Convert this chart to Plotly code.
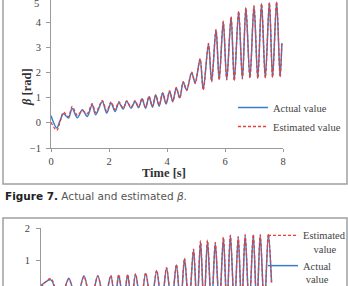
import plotly.graph_objects as go

# ---------------- Figure 7 (top): actual and estimated beta ----------------
t_top = [0.00, 0.20, 0.30, 0.43, 0.60, 0.73, 0.91, 1.08, 1.25, 1.42, 1.54, 1.77,
         1.92, 2.07, 2.21, 2.34, 2.49, 2.61, 2.76, 2.90, 3.02, 3.14, 3.26, 3.38,
         3.50, 3.61, 3.73, 3.85, 3.97, 4.09, 4.20, 4.32, 4.44, 4.56, 4.68, 4.85,
         4.97, 5.14, 5.25, 5.43, 5.54, 5.69, 5.80, 5.94, 6.06, 6.21, 6.32, 6.47,
         6.60, 6.72, 6.86, 7.00, 7.13, 7.26, 7.39, 7.53, 7.64, 7.78, 7.90, 7.96]
beta_actual = [0.28, -0.21, 0.05, 0.36, 0.19, 0.57, 0.20, 0.52, 0.25, 0.72, 0.32, 0.85,
               0.39, 0.79, 0.45, 0.80, 0.55, 0.86, 0.58, 0.85, 0.60, 0.95, 0.58, 1.03,
               0.62, 1.10, 0.66, 1.18, 0.75, 1.25, 0.85, 1.38, 0.99, 1.61, 1.30, 1.99,
               1.59, 2.52, 1.32, 3.12, 1.65, 3.69, 1.72, 4.01, 1.72, 4.19, 1.68, 4.41,
               1.75, 4.56, 1.79, 4.63, 1.77, 4.72, 1.79, 4.76, 1.81, 4.79, 1.83, 3.16]
beta_estimated = [0.02, -0.30, -0.02, 0.42, 0.24, 0.65, 0.30, 0.48, 0.36, 0.76, 0.40, 0.88,
                  0.46, 0.83, 0.52, 0.84, 0.58, 0.87, 0.62, 0.88, 0.63, 0.96, 0.62, 1.05,
                  0.65, 1.11, 0.70, 1.19, 0.77, 1.27, 0.83, 1.40, 0.97, 1.63, 1.28, 2.02,
                  1.56, 2.55, 1.30, 3.15, 1.63, 3.71, 1.70, 4.03, 1.70, 4.21, 1.67, 4.43,
                  1.74, 4.57, 1.78, 4.64, 1.76, 4.73, 1.78, 4.77, 1.80, 4.80, 1.82, 3.15]

# ---------------- second figure (partially visible, bottom) ----------------
t_bot = [0.00, 0.34, 0.65, 0.96, 1.22, 1.48, 1.72, 1.96, 2.18, 2.41, 2.55, 2.68,
         2.84, 2.99, 3.12, 3.26, 3.44, 3.61, 3.80, 3.99, 4.16, 4.33, 4.50, 4.67,
         4.81, 4.95, 5.10, 5.26, 5.38, 5.50, 5.62, 5.74, 5.88, 6.01, 6.15, 6.29,
         6.41, 6.53, 6.67, 6.80, 6.92, 7.04, 7.18, 7.32, 7.44, 7.56, 7.70, 7.84, 7.95]
bot_actual = [0.20, 0.38, -0.30, 0.43, -0.30, 0.51, -0.30, 0.51, -0.30, 0.50, -0.30, 0.52,
              -0.30, 0.53, -0.35, 0.55, -0.35, 0.58, -0.35, 0.66, -0.40, 0.74, -0.40, 0.84,
              -0.45, 1.03, -0.45, 1.31, -0.50, 1.57, -0.50, 1.59, -0.50, 1.52, -0.50, 1.68,
              -0.50, 1.76, -0.50, 1.70, -0.50, 1.76, -0.50, 1.78, -0.50, 1.76, -0.50, 1.80, 0.30]
bot_estimated = [0.15, 0.42, -0.30, 0.40, -0.30, 0.48, -0.30, 0.50, -0.30, 0.52, -0.30, 0.54,
                 -0.30, 0.55, -0.35, 0.57, -0.35, 0.60, -0.35, 0.68, -0.40, 0.76, -0.40, 0.86,
                 -0.45, 1.06, -0.45, 1.34, -0.50, 1.60, -0.50, 1.62, -0.50, 1.55, -0.50, 1.71,
                 -0.50, 1.78, -0.50, 1.73, -0.50, 1.79, -0.50, 1.80, -0.50, 1.79, -0.50, 1.82, 0.30]

x_ticks_top = [0, 2, 4, 6, 8]
y_ticks_top = [-1, 0, 1, 2, 3, 4]
y_ticks_bot = [1, 2]

BLUE = "#3d7cc9"
RED = "#e5403a"
AXIS = "#9a9a9a"
TXT = "#444444"
SERIF = "Liberation Serif"
W, H = 348, 286


def px(x):
    return x / W


def py(y):
    return 1 - y / H


fig = go.Figure()

fig.add_trace(go.Scatter(x=t_top, y=beta_actual, mode="lines", name="Actual value",
                         line=dict(color=BLUE, width=1.5, shape="spline", smoothing=0.9),
                         xaxis="x", yaxis="y", legend="legend"))
fig.add_trace(go.Scatter(x=t_top, y=beta_estimated, mode="lines", name="Estimated value",
                         line=dict(color=RED, width=1.3, dash="3px,2px", shape="spline", smoothing=0.9),
                         xaxis="x", yaxis="y", legend="legend"))

fig.add_trace(go.Scatter(x=t_bot, y=bot_actual, mode="lines", name="Actual<br>\u00a0value",
                         line=dict(color=BLUE, width=1.5, shape="spline", smoothing=0.9),
                         xaxis="x2", yaxis="y2", legend="legend2"))
fig.add_trace(go.Scatter(x=t_bot, y=bot_estimated, mode="lines",
                         name="Estimated<br>\u00a0\u00a0\u00a0\u00a0value",
                         line=dict(color=RED, width=1.3, dash="3px,2px", shape="spline", smoothing=0.9),
                         xaxis="x2", yaxis="y2", legend="legend2"))

fig.update_layout(
    width=W, height=H, autosize=False,
    margin=dict(l=0, r=0, t=0, b=0, autoexpand=False),
    paper_bgcolor="white", plot_bgcolor="white",
    font=dict(family=SERIF, size=10.5, color=TXT),
    xaxis=dict(domain=[px(51), px(283)], range=[0, 8], tickvals=x_ticks_top,
               showline=True, linecolor=AXIS, linewidth=1, showgrid=False, zeroline=False,
               ticks="outside", ticklen=3, tickcolor=AXIS, tickfont=dict(family=SERIF, size=10.5, color=TXT),
               anchor="y"),
    yaxis=dict(domain=[py(148), 1], range=[-1, -1 + 148 / 25.2], tickvals=y_ticks_top,
               showline=True, linecolor=AXIS, linewidth=1, showgrid=False, zeroline=False,
               ticks="outside", ticklen=4, tickcolor=AXIS, ticklabelstandoff=3,
               tickfont=dict(family=SERIF, size=10.5, color=TXT), anchor="x"),
    xaxis2=dict(domain=[px(41), px(273)], range=[0, 8], visible=False, anchor="y2"),
    yaxis2=dict(domain=[0, py(228)], range=[2 - 58 / 32, 2], tickvals=y_ticks_bot,
                showline=True, linecolor=AXIS, linewidth=1, showgrid=False, zeroline=False,
                ticks="outside", ticklen=4, tickcolor=AXIS, ticklabelstandoff=4,
                tickfont=dict(family=SERIF, size=10.5, color=TXT), anchor="x2"),
    legend=dict(x=px(233), y=py(93), xanchor="left", yanchor="top", bgcolor="rgba(0,0,0,0)",
                font=dict(family=SERIF, size=10.5, color=TXT), tracegroupgap=0),
    legend2=dict(x=px(263), y=py(222), xanchor="left", yanchor="top", bgcolor="rgba(0,0,0,0)",
                 font=dict(family=SERIF, size=10.5, color=TXT), traceorder="reversed", valign="top"),
    showlegend=True,
)

# frames of the two figure boxes
fig.add_shape(type="rect", xref="paper", yref="paper", x0=px(3), x1=px(347), y0=py(184), y1=1.2,
              line=dict(color="#a0a0a0", width=1.5), layer="below")
fig.add_shape(type="rect", xref="paper", yref="paper", x0=px(3), x1=px(347), y0=-0.2, y1=py(218),
              line=dict(color="#a0a0a0", width=1.5), layer="below")

# axis titles and caption
fig.add_annotation(text="<b>Time [s]</b>", xref="paper", yref="paper", x=px(164), y=py(173),
                   showarrow=False, font=dict(family=SERIF, size=12.5, color="#333333"))
fig.add_annotation(text="<b><i>β</i> [rad]</b>", xref="paper", yref="paper", x=px(18), y=py(66),
                   textangle=-90, showarrow=False, font=dict(family=SERIF, size=12.5, color="#333333"))
fig.add_annotation(text="5", xref="paper", yref="paper", x=px(41), y=py(-4), xanchor="right",
                   showarrow=False, font=dict(family=SERIF, size=10.5, color=TXT))
fig.add_annotation(text="<b>Figure 7.</b> <span style='color:#555555'>Actual and estimated <i>β</i>.</span>",
                   xref="paper", yref="paper", x=px(3), y=py(196), xanchor="left", yanchor="middle",
                   showarrow=False, font=dict(family="DejaVu Sans", size=10.5, color="#222222"))

fig.write_html("out.html")
